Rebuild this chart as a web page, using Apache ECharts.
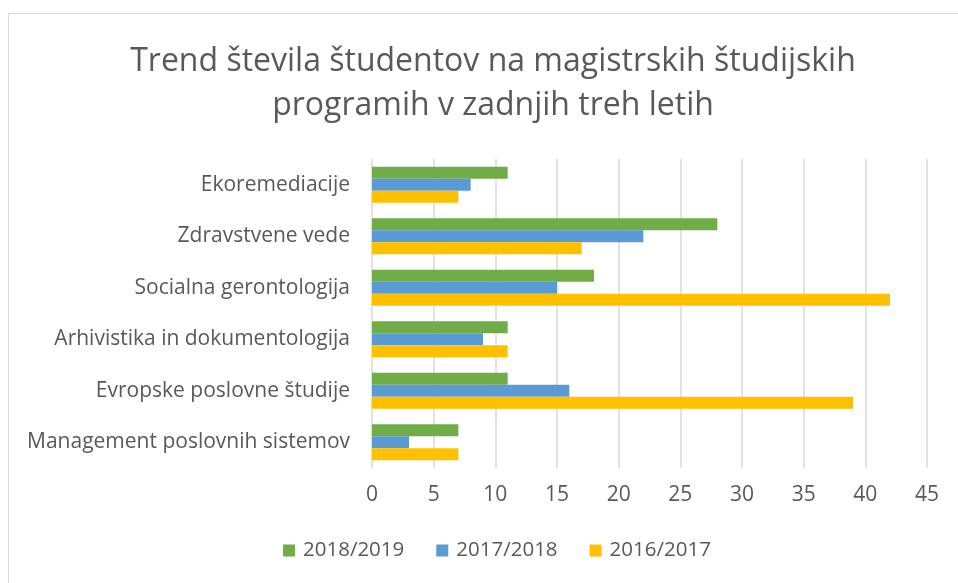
<!DOCTYPE html>
<html>
<head>
<meta charset="utf-8">
<script src="https://cdn.jsdelivr.net/npm/echarts@6/dist/echarts.min.js"></script>
<style>
html,body{margin:0;padding:0;background:#fff;}
#c{width:958px;height:583px;}
</style>
</head>
<body>
<div id="c"></div>
<script>
var categories = ['Ekoremediacije','Zdravstvene vede','Socialna gerontologija','Arhivistika in dokumentologija','Evropske poslovne študije','Management poslovnih sistemov'];
var seriesNames = ['2018/2019','2017/2018','2016/2017'];
var v2018 = [11, 28, 18, 11, 11, 7];
var v2017 = [8, 22, 15, 9, 16, 3];
var v2016 = [7, 17, 42, 11, 39, 7];
var xTicks = [0,5,10,15,20,25,30,35,40,45];
var colors = ['#70AD47','#5B9BD5','#FFC000'];
var FONT = 'Open Sans';
var txt = '#595959';

var chart = echarts.init(document.getElementById('c'));
var vals = [v2018, v2017, v2016];
chart.setOption({
  animation:false,
  graphic:[{type:'rect',shape:{x:8.5,y:13.5,width:1000,height:1000},style:{fill:'none',stroke:'#D9D9D9',lineWidth:1},silent:true}],
  title:{
    text:'Trend števila študentov na magistrskih študijskih\nprogramih v zadnjih treh letih',
    left:488, top:35, textAlign:'center',
    textStyle:{fontFamily:FONT,fontSize:32,fontWeight:'normal',color:txt,lineHeight:44}
  },
  legend:{
    data:seriesNames, bottom:17, left:278, itemWidth:12, itemHeight:12, itemGap:32,
    icon:'rect',
    textStyle:{fontFamily:FONT,fontSize:20.5,color:txt,padding:[0,0,0,3]}
  },
  grid:{left:372,right:31,top:159,height:309,containLabel:false},
  xAxis:{
    type:'value', min:0, max:45, interval:5,
    axisLine:{show:false}, axisTick:{show:false},
    axisLabel:{fontFamily:FONT,fontSize:21,color:txt,margin:17,
      formatter:function(v){return xTicks.indexOf(v)>=0?String(v):'';}},
    splitLine:{show:true,lineStyle:{color:'#D9D9D9',width:1.5}}
  },
  yAxis:{
    type:'category', data:categories, inverse:true,
    axisLine:{show:false}, axisTick:{show:false},
    axisLabel:{fontFamily:FONT,fontSize:21,color:txt,margin:22}
  },
  series:seriesNames.map(function(n,i){
    return {name:n,type:'bar',data:vals[i],barGap:'0%',barCategoryGap:'30%',
      itemStyle:{color:colors[i]}};
  })
});
</script>
</body>
</html>
